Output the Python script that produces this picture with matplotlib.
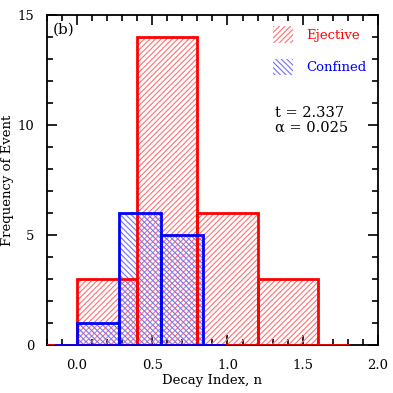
import matplotlib
matplotlib.use("Agg")
import matplotlib.pyplot as plt
from matplotlib.patches import Patch
from matplotlib.ticker import MultipleLocator

# Data
ej_edges = [0.0, 0.4, 0.8, 1.2, 1.6]
ej_counts = [3, 14, 6, 3]
cf_edges = [0.0, 0.28, 0.56, 0.84]
cf_counts = [1, 6, 5]
stats_text = ["t = 2.337", "α = 0.025"]

plt.rcParams['font.family'] = ['DejaVu Serif']
plt.rcParams['hatch.linewidth'] = 0.8

fig = plt.figure(figsize=(3.93, 3.93), dpi=100)
ax = fig.add_axes([0.1196, 0.121, 0.842, 0.842])

red_h = '#ff7070'
blue_h = '#7070ff'
red_hatch = '//////'
blue_hatch = '\\\\\\\\\\\\'

def draw_hist(edges, counts, hatchcol, hatch, z):
    w = edges[1] - edges[0]
    lefts = edges[:-1]
    ax.bar(lefts, counts, width=w, align='edge', facecolor='none',
           edgecolor=hatchcol, hatch=hatch, linewidth=0, zorder=z)
    return lefts, w

lr, wr = draw_hist(ej_edges, ej_counts, red_h, red_hatch, 2)
lb, wb = draw_hist(cf_edges, cf_counts, blue_h, blue_hatch, 3)

# outlines
ax.bar(lr, ej_counts, width=wr, align='edge', facecolor='none',
       edgecolor='red', linewidth=2.0, zorder=4)
ax.bar(lb, cf_counts, width=wb, align='edge', facecolor='none',
       edgecolor='blue', linewidth=2.0, zorder=5)
# half-bin baselines (zero bins)
ax.plot([ej_edges[0] - wr / 2, ej_edges[0]], [0, 0], color='red', lw=2, zorder=4)
ax.plot([ej_edges[-1], ej_edges[-1] + wr / 2], [0, 0], color='red', lw=2, zorder=4)
ax.plot([cf_edges[0] - wb / 2, cf_edges[0]], [0, 0], color='blue', lw=2, zorder=5)
ax.plot([cf_edges[-1], cf_edges[-1] + wb / 2], [0, 0], color='blue', lw=2, zorder=5)

ax.set_xlim(-0.2, 2.0)
ax.set_ylim(0, 15)
ax.xaxis.set_major_locator(MultipleLocator(0.5))
ax.xaxis.set_minor_locator(MultipleLocator(0.1))
ax.yaxis.set_major_locator(MultipleLocator(5))
ax.yaxis.set_minor_locator(MultipleLocator(1))
ax.tick_params(which='both', direction='in', top=True, right=True, width=1.2,
               labelsize=9.5)
ax.tick_params(axis='x', which='both', pad=10)
ax.tick_params(axis='y', which='both', pad=9)
ax.tick_params(which='major', length=7)
ax.tick_params(which='minor', length=4)
ax.set_xticks([0.0, 0.5, 1.0, 1.5, 2.0])
ax.set_xticklabels(['0.0', '0.5', '1.0', '1.5', '2.0'])
for s in ax.spines.values():
    s.set_linewidth(1.3)

ax.set_xlabel('Decay Index, n', fontsize=9.5, labelpad=1)
ax.set_ylabel('Frequency of Event', fontsize=9.5)
ax.yaxis.set_label_coords(-0.1, 0.5)

ax.text(0.017, 0.975, '(b)', transform=ax.transAxes, fontsize=11, va='top', ha='left')

handles = [Patch(facecolor='none', edgecolor=red_h, hatch=red_hatch, linewidth=0),
           Patch(facecolor='none', edgecolor=blue_h, hatch=blue_hatch, linewidth=0)]
leg = ax.legend(handles, ['Ejective', 'Confined'], loc='upper right',
                bbox_to_anchor=(1.0, 1.0), frameon=False, fontsize=9.5,
                handlelength=1.5, handleheight=1.6, handletextpad=1.0,
                labelspacing=1.15)
for t, c in zip(leg.get_texts(), ['red', 'blue']):
    t.set_color(c)

ax.text(0.69, 0.725, stats_text[0] + "\n" + stats_text[1], transform=ax.transAxes,
        fontsize=10.5, va='top', ha='left', linespacing=1.1)

fig.savefig('out.png', dpi=100)
